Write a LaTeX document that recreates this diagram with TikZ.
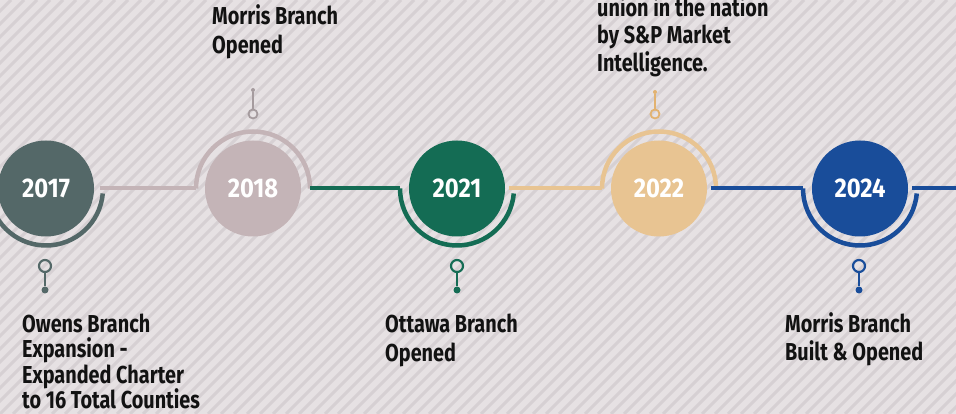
\documentclass[tikz,border=0pt]{standalone}
\usepackage{fontspec}
\usetikzlibrary{calc}
\newfontfamily\lblfont[FakeStretch=0.81]{Fira Sans}
\newfontfamily\yrfont[FakeStretch=0.88]{Fira Sans}
\definecolor{bgc}{RGB}{230,225,227}
\definecolor{stripec}{RGB}{214,208,211}
\definecolor{txtc}{RGB}{18,18,18}
\definecolor{cA}{RGB}{84,104,104}
\definecolor{cB}{RGB}{196,180,183}
\definecolor{cC}{RGB}{20,108,84}
\definecolor{cD}{RGB}{232,196,146}
\definecolor{cE}{RGB}{25,77,154}
\definecolor{pinB}{RGB}{165,155,158}
\definecolor{pinD}{RGB}{226,178,112}
\begin{document}
\begin{tikzpicture}[x=1pt,y=1pt,
  yearcirc/.style={circle, minimum size=96pt, inner sep=0pt, text=white, font=\yrfont\bfseries\fontsize{27}{27}\selectfont},
  evtxt/.style={anchor=base west, inner sep=0pt, text=txtc, font=\lblfont\bfseries\fontsize{24.5}{24.5}\selectfont},
  conn/.style={line width=4pt},
  ringarc/.style={line width=4.5pt},
  pinring/.style={circle, minimum size=12pt, inner sep=0pt, line width=2.2pt},
  pindot/.style={circle, minimum size=7pt, inner sep=0pt},
  stemline/.style={line width=2.4pt},
  toppinring/.style={circle, minimum size=9pt, inner sep=0pt, line width=1.8pt},
  toppindot/.style={circle, minimum size=4pt, inner sep=0pt},
  topstem/.style={line width=1.6pt},
]
\useasboundingbox (0,0) rectangle (956,414);
\begin{scope}
\clip (0,0) rectangle (956,414);
\fill[bgc] (0,0) rectangle (956,414);
\foreach \i in {-32,...,74} { \draw[stripec, line width=3pt] (\i*13,0) -- ++(414,414); }

% year circles
\node[yearcirc, fill=cA] (y17) at (46,225.5) {2017};
\node[yearcirc, fill=cB] (y18) at (253,225.5) {2018};
\node[yearcirc, fill=cC] (y21) at (457,225.5) {2021};
\node[yearcirc, fill=cD] (y22) at (659,225.5) {2022};
\node[yearcirc, fill=cE] (y24) at (860,225.5) {2024};

% arc start/end coordinates
\coordinate (a17s) at ($(y17.center)+(-57,0)$);
\coordinate (r17) at ($(y17.center)+(54,0)$);
\coordinate (a18s) at ($(y18.center)+(-57,0)$);
\coordinate (a18e) at ($(y18.center)+(57,0)$);
\coordinate (a21s) at ($(y21.center)+(-57,0)$);
\coordinate (r21) at ($(y21.center)+(52,0)$);
\coordinate (a22s) at ($(y22.center)+(-57,0)$);
\coordinate (r22) at ($(y22.center)+(52,0)$);
\coordinate (a24s) at ($(y24.center)+(-57,0)$);
\coordinate (r24) at ($(y24.center)+(52,0)$);
\coordinate (edge) at (960,225.5);

% arcs
\draw[ringarc, cA] (a17s) arc[start angle=180, end angle=355, radius=57];
\draw[ringarc, cB] (a18s) arc[start angle=180, end angle=0, radius=57];
\draw[ringarc, cC] (a21s) arc[start angle=180, end angle=355, radius=57];
\draw[ringarc, cD] (a22s) arc[start angle=180, end angle=0, radius=57];
\draw[ringarc, cE] (a24s) arc[start angle=180, end angle=355, radius=57];

% connectors
\draw[conn, cB] (r17) -- (a18s);
\draw[conn, cC] (a18e) -- (a21s);
\draw[conn, cD] (r21) -- (a22s);
\draw[conn, cE] (r22) -- (a24s);
\draw[conn, cE] (r24) -- (edge);

% bottom pins
\node[pinring, draw=cA] (p17r) at (45,148) {};
\node[pindot, fill=cA] (p17d) at (45,124) {};
\draw[stemline, cA] (p17r) -- (p17d);
\node[pinring, draw=cC] (p21r) at (457,148) {};
\node[pindot, fill=cC] (p21d) at (457,124) {};
\draw[stemline, cC] (p21r) -- (p21d);
\node[pinring, draw=cE] (p24r) at (859,148) {};
\node[pindot, fill=cE] (p24d) at (859,124) {};
\draw[stemline, cE] (p24r) -- (p24d);

% top pins
\node[toppinring, draw=pinB] (p18r) at (253,300) {};
\node[toppindot, fill=pinB] (p18d) at (253,324) {};
\draw[topstem, pinB] (p18r) -- (p18d);
\node[toppinring, draw=pinD] (p22r) at (655,300) {};
\node[toppindot, fill=pinD] (p22d) at (655,322) {};
\draw[topstem, pinD] (p22r) -- (p22d);

% texts
\node[evtxt] (t17a) at (22,81) {Owens Branch};
\node[evtxt] (t17b) at (22,56) {Expansion -};
\node[evtxt] (t17c) at (22,30.5) {Expanded Charter};
\node[evtxt] (t17d) at (22,5) {to 16 Total Counties};

\node[evtxt] (t18a) at (212,389) {Morris Branch};
\node[evtxt] (t18b) at (212,360.5) {Opened};

\node[evtxt] (t21a) at (385,81) {Ottawa Branch};
\node[evtxt] (t21b) at (385,52.5) {Opened};

\node[evtxt] (t22a) at (597,397) {union in the nation};
\node[evtxt] (t22b) at (597,370) {by S\&P Market};
\node[evtxt] (t22c) at (597,342) {Intelligence.};

\node[evtxt] (t24a) at (785,81) {Morris Branch};
\node[evtxt] (t24b) at (785,53) {Built \& Opened};
\end{scope}
\end{tikzpicture}
\end{document}
